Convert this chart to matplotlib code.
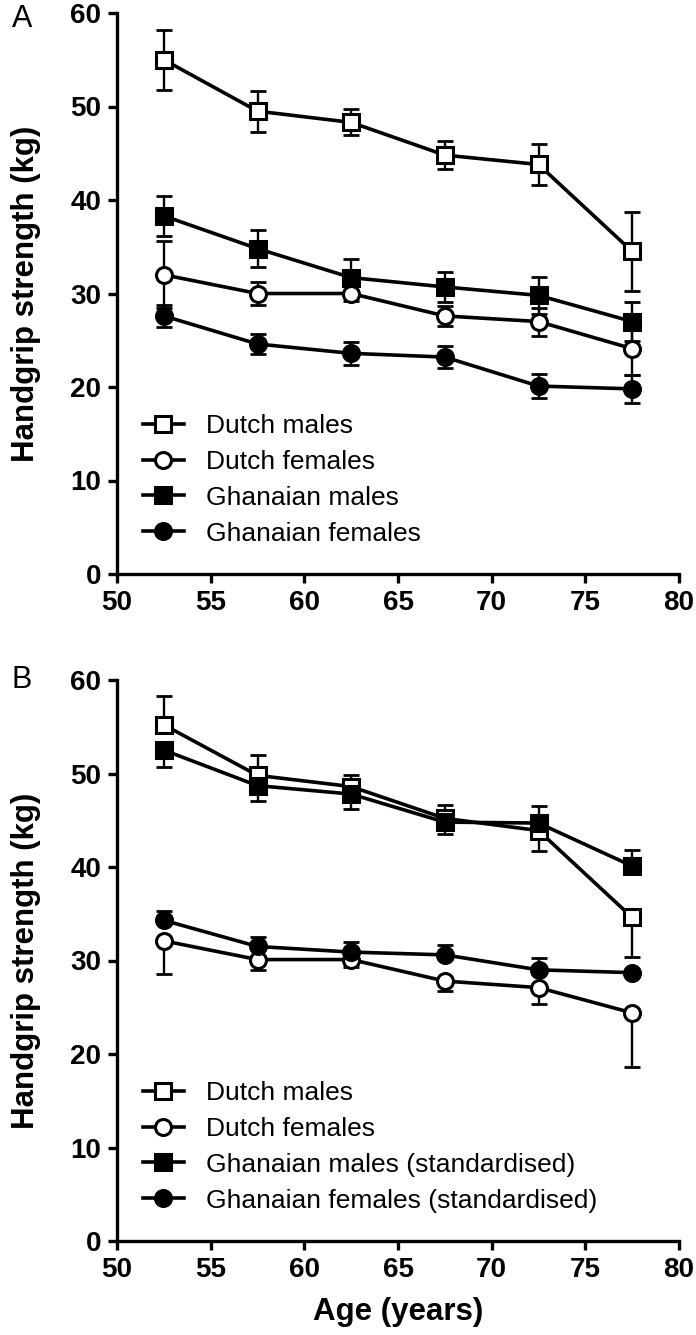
import matplotlib
matplotlib.use("Agg")
import matplotlib.pyplot as plt
import numpy as np

plt.rcParams['font.family'] = ['Liberation Sans', 'DejaVu Sans']

# ---- data ----
ages = [52.5, 57.5, 62.5, 67.5, 72.5, 77.5]

# Panel A (mean, symmetric SE)
a_dutch_m = [55.0, 49.5, 48.3, 44.8, 43.8, 34.5]
a_dutch_m_err = [3.2, 2.2, 1.4, 1.5, 2.2, 4.2]
a_dutch_f = [32.0, 30.0, 30.0, 27.6, 27.0, 24.1]
a_dutch_f_err = [3.6, 1.2, 0.8, 1.1, 1.5, 2.8]
a_ghana_m = [38.3, 34.8, 31.7, 30.7, 29.8, 27.0]
a_ghana_m_err = [2.1, 2.0, 2.0, 1.6, 2.0, 2.1]
a_ghana_f = [27.6, 24.6, 23.6, 23.2, 20.1, 19.8]
a_ghana_f_err = [1.2, 1.1, 1.2, 1.2, 1.3, 1.5]

# Panel B (mean, lower / upper error shown)
b_dutch_m = [55.2, 49.8, 48.6, 45.2, 43.9, 34.6]
b_dutch_m_lo = [0, 0, 0, 0, 2.2, 4.2]
b_dutch_m_hi = [3.1, 2.2, 1.2, 1.4, 0, 0]
b_dutch_f = [32.1, 30.1, 30.1, 27.8, 27.1, 24.4]
b_dutch_f_lo = [3.5, 1.1, 0.8, 1.1, 1.8, 5.8]
b_dutch_f_hi = [0, 0, 0, 0, 0, 0]
b_ghana_m = [52.5, 48.7, 47.8, 44.8, 44.7, 40.1]
b_ghana_m_lo = [1.8, 1.6, 1.6, 1.3, 0, 0]
b_ghana_m_hi = [0, 0, 0, 0, 1.8, 1.7]
b_ghana_f = [34.3, 31.5, 30.9, 30.6, 29.0, 28.7]
b_ghana_f_lo = [0, 0, 0, 0, 0, 0]
b_ghana_f_hi = [1.0, 1.0, 1.1, 1.1, 1.3, 0]

labels_a = ["Dutch males", "Dutch females", "Ghanaian males", "Ghanaian females"]
labels_b = ["Dutch males", "Dutch females",
            "Ghanaian males (standardised)", "Ghanaian females (standardised)"]

x_ticks = [50, 55, 60, 65, 70, 75, 80]
y_ticks = [0, 10, 20, 30, 40, 50, 60]

# ---- styling ----
W, H = 696, 1335
fig = plt.figure(figsize=(W / 100, H / 100), dpi=100)
left = 117 / W
width = 562 / W
ax_h = 561 / H
axA = fig.add_axes([left, 1 - 574 / H, width, ax_h])
axB = fig.add_axes([left, 1 - 1241 / H, width, ax_h])

styles = [dict(marker='s', mfc='white'), dict(marker='o', mfc='white'),
          dict(marker='s', mfc='black'), dict(marker='o', mfc='black')]
MS = 11.5
LW = 2.6


def draw(ax, series, errs, labels):
    handles = []
    for (y, e), st, lab in zip(zip(series, errs), styles, labels):
        ax.errorbar(ages, y, yerr=e, fmt='none', ecolor='black',
                    elinewidth=1.7, capsize=6, capthick=2.0, zorder=2)
        h, = ax.plot(ages, y, color='black', lw=LW, marker=st['marker'],
                     mfc=st['mfc'], mec='black', mew=2.2, ms=MS, zorder=3,
                     label=lab)
        handles.append(h)
    ax.set_xlim(50, 80)
    ax.set_ylim(0, 60)
    ax.set_xticks(x_ticks)
    ax.set_yticks(y_ticks)
    for s in ['top', 'right']:
        ax.spines[s].set_visible(False)
    for s in ['left', 'bottom']:
        ax.spines[s].set_linewidth(2.4)
    ax.tick_params(direction='out', length=6.5, width=2.4, labelsize=20)
    ax.tick_params(axis='x', pad=5)
    ax.tick_params(axis='y', pad=5)
    for t in ax.get_xticklabels() + ax.get_yticklabels():
        t.set_fontweight('bold')
    ax.set_ylabel("Handgrip strength (kg)", fontsize=22.5, fontweight='bold')
    ax.yaxis.set_label_coords(-0.135, 0.5)
    leg = ax.legend(handles=handles, loc='center left',
                    bbox_to_anchor=(0.046, 0.168), frameon=False,
                    fontsize=19, handlelength=1.55, handletextpad=0.85,
                    labelspacing=0.45, borderaxespad=0.0, borderpad=0.0)
    for line in leg.get_lines():
        line.set_linewidth(LW)
    return ax


draw(axA, [a_dutch_m, a_dutch_f, a_ghana_m, a_ghana_f],
     [a_dutch_m_err, a_dutch_f_err, a_ghana_m_err, a_ghana_f_err], labels_a)
draw(axB, [b_dutch_m, b_dutch_f, b_ghana_m, b_ghana_f],
     [[b_dutch_m_lo, b_dutch_m_hi], [b_dutch_f_lo, b_dutch_f_hi],
      [b_ghana_m_lo, b_ghana_m_hi], [b_ghana_f_lo, b_ghana_f_hi]], labels_b)
axB.set_xlabel("Age (years)", fontsize=22.5, fontweight='bold')
axB.xaxis.set_label_coords(0.5, -0.100)

fig.text(12 / W, 1 - 19 / H, "A", fontsize=22, va='center', ha='left')
fig.text(12 / W, 1 - 680 / H, "B", fontsize=22, va='center', ha='left')

fig.savefig("out.png", dpi=100)
